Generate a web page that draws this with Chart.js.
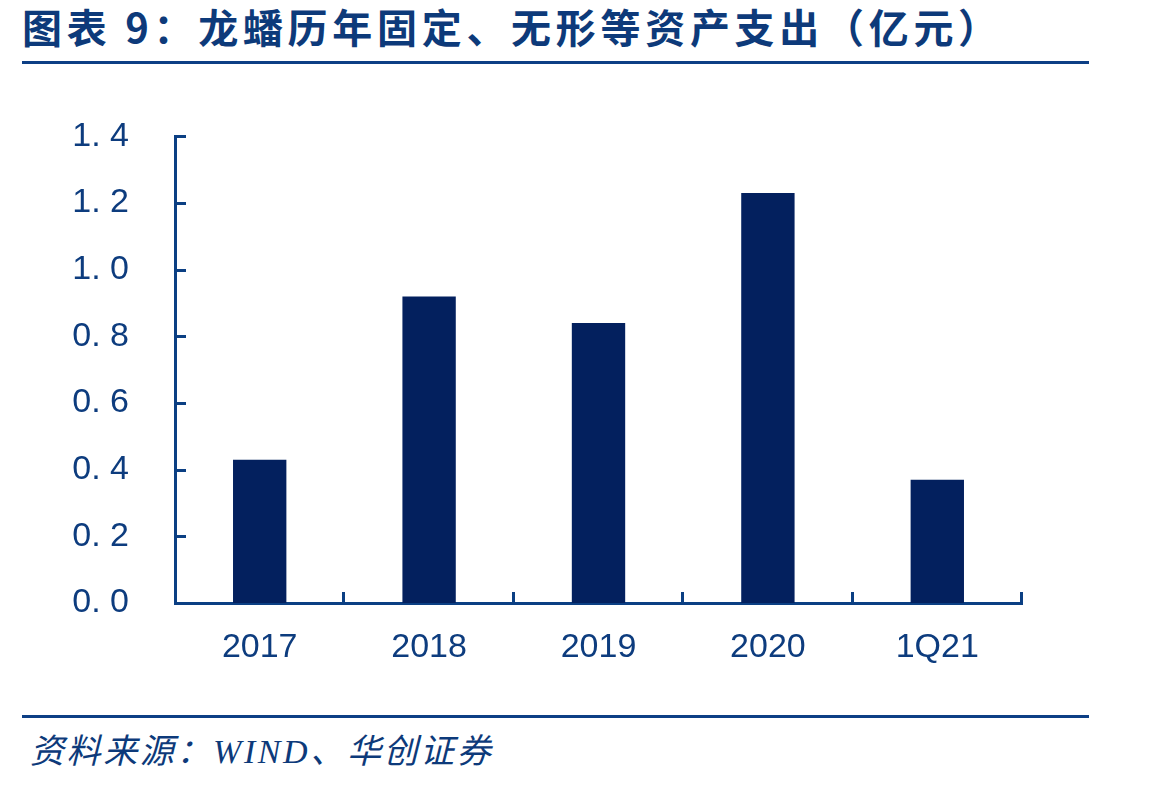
<!DOCTYPE html>
<html>
<head>
<meta charset="utf-8">
<script src="https://cdn.jsdelivr.net/npm/chart.js@4.4.0/dist/chart.umd.min.js"></script>
<style>
  html, body { margin: 0; padding: 0; background: #fff; }
  body { width: 1149px; height: 785px; position: relative; overflow: hidden; }
  .title {
    position: absolute; left: 22px; top: -3px;
    font-family: "Noto Sans CJK SC", sans-serif; font-weight: 700;
    font-size: 40px; color: #0d3a7a; letter-spacing: 4.7px; white-space: nowrap;
  }
  .rule { position: absolute; left: 22px; width: 1067px; height: 3px; background: #0d3f85; }
  .source {
    position: absolute; left: 30px; top: 724px;
    font-family: "Liberation Serif", "Noto Sans CJK SC", serif; font-style: italic;
    font-size: 34px; color: #0d3a7a; letter-spacing: 2.6px; white-space: nowrap;
  }
  #wrap { position: absolute; left: 0; top: 70px; width: 1149px; height: 630px; }
</style>
</head>
<body>
<div class="title">图表 9：龙蟠历年固定、无形等资产支出（亿元）</div>
<div class="rule" style="top:61px"></div>
<div id="wrap"><canvas id="chart"></canvas></div>
<div class="rule" style="top:715px"></div>
<div class="source">资料来源：WIND、华创证券</div>
<script>
// data
var categories = ['2017', '2018', '2019', '2020', '1Q21'];
var capex = [0.43, 0.92, 0.84, 1.23, 0.37];
var yMin = 0, yMax = 1.4, yStep = 0.2;

var axisColor = '#0b3f83';
var textColor = '#0d3c7e';

// small inward tick marks, placed from the scales
var inwardTicks = {
  id: 'inwardTicks',
  afterDraw: function(chart) {
    var ctx = chart.ctx, area = chart.chartArea;
    var xs = chart.scales.x, ys = chart.scales.y;
    ctx.save();
    ctx.strokeStyle = axisColor;
    ctx.lineWidth = 3;
    ctx.beginPath();
    ys.ticks.forEach(function(t, i) {
      var y = Math.round(ys.getPixelForTick(i)) + 0.5;
      ctx.moveTo(area.left, y);
      ctx.lineTo(area.left + 11, y);
    });
    for (var i = 0; i < xs.ticks.length; i++) {
      var x = i < xs.ticks.length - 1
        ? (xs.getPixelForTick(i) + xs.getPixelForTick(i + 1)) / 2
        : area.right;
      x = Math.round(x) - 0.5;
      ctx.moveTo(x, area.bottom);
      ctx.lineTo(x, area.bottom - 11);
    }
    ctx.stroke();
    ctx.restore();
  }
};

Chart.defaults.font.family = "'Liberation Sans', Arial, sans-serif";

var ctx = document.getElementById('chart').getContext('2d');
var myChart = new Chart(ctx, {
  type: 'bar',
  data: {
    labels: categories,
    datasets: [{
      data: capex,
      backgroundColor: '#03205e',
      barPercentage: 0.315,
      categoryPercentage: 1.0
    }]
  },
  options: {
    responsive: true,
    maintainAspectRatio: false,
    animation: false,
    layout: { padding: { top: 46, right: 127, left: 0, bottom: 0 } },
    plugins: {
      legend: { display: false },
      tooltip: { enabled: false }
    },
    scales: {
      x: {
        grid: { display: false, drawTicks: false },
        border: { display: true, color: axisColor, width: 3 },
        ticks: { color: textColor, font: { size: 34 }, padding: 24 },
        afterFit: function(s) { s.height = 97; }
      },
      y: {
        min: yMin, max: yMax,
        grid: { display: false, drawTicks: false },
        border: { display: true, color: axisColor, width: 3 },
        ticks: {
          stepSize: yStep, color: textColor, font: { size: 34 }, padding: 46,
          callback: function(v) { return v.toFixed(1).replace('.', '. '); }
        },
        afterFit: function(s) { s.width = 175; }
      }
    }
  },
  plugins: [inwardTicks]
});
</script>
</body>
</html>
